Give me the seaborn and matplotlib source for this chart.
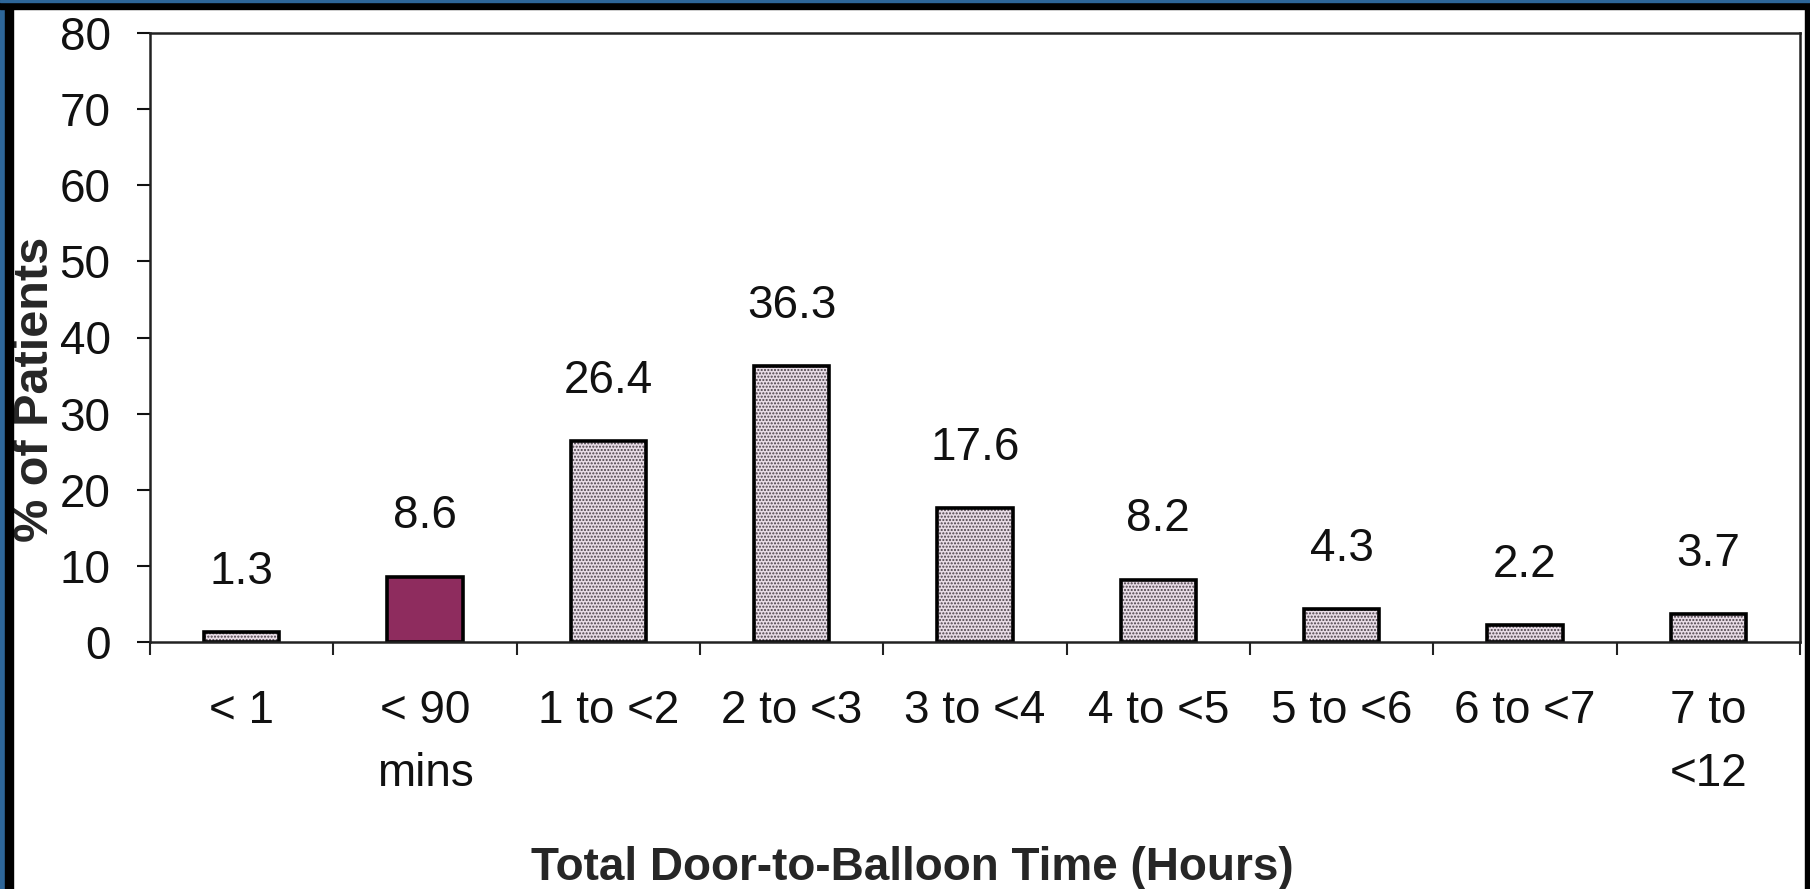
import numpy as np
import pandas as pd
import seaborn as sns
import matplotlib.pyplot as plt
from matplotlib.patches import Rectangle

categories = ["< 1", "< 90\nmins", "1 to <2", "2 to <3", "3 to <4",
              "4 to <5", "5 to <6", "6 to <7", "7 to\n<12"]
percent = [1.3, 8.6, 26.4, 36.3, 17.6, 8.2, 4.3, 2.2, 3.7]
value_labels = ["1.3", "8.6", "26.4", "36.3", "17.6", "8.2", "4.3", "2.2", "3.7"]
bar_colors = ["#e8dce6", "#8e2c5e", "#e8dce6", "#e8dce6", "#e8dce6",
              "#e8dce6", "#e8dce6", "#e8dce6", "#e8dce6"]
y_ticks = [0, 10, 20, 30, 40, 50, 60, 70, 80]

df = pd.DataFrame({"cat": categories, "pct": percent})

sns.set_theme(style="white")
plt.rcParams["font.family"] = ["Liberation Sans", "DejaVu Sans"]

fig = plt.figure(figsize=(18.1, 8.89), dpi=100)
fig.patch.set_facecolor("white")
ax = fig.add_axes([150 / 1810, 1 - 642 / 889, (1800 - 150) / 1810, (642 - 33) / 889])

# stippled fill
sns.barplot(data=df, x="cat", y="pct", hue="cat", palette=bar_colors,
            saturation=1, width=0.41, legend=False, ax=ax,
            edgecolor="#4a4048", linewidth=0)
for i, p in enumerate(ax.patches):
    if i != 1:
        p.set_hatch(".....")
# black outlines
sns.barplot(data=df, x="cat", y="pct", color="black", fill=False,
            width=0.41, ax=ax, linewidth=2.6)

for i, (v, lab) in enumerate(zip(percent, value_labels)):
    ax.text(i, v + 7.9, lab, ha="center", va="center", fontsize=33, color="#111111")

ax.set_ylim(0, 80)
ax.set_xlim(-0.5, len(categories) - 0.5)
ax.set_yticks(y_ticks)
ax.set_yticklabels([str(t) for t in y_ticks], fontsize=33)
ax.set_xticks(range(len(categories)))
ax.set_xticklabels(categories, fontsize=33, linespacing=1.55)
ax.set_xticks(np.arange(-0.5, len(categories), 1.0), minor=True)
ax.tick_params(axis="x", which="major", length=0, pad=34, colors="#111111")
ax.tick_params(axis="x", which="minor", length=9, width=1.5, direction="out",
               bottom=True, color="#222222")
ax.tick_params(axis="y", length=9.4, width=1.5, direction="out", left=True,
               pad=19, colors="#111111")

for s in ax.spines.values():
    s.set_visible(True)
    s.set_color("#222222")
    s.set_linewidth(1.8)

ax.set_xlabel("Total Door-to-Balloon Time (Hours)", fontsize=33, fontweight="bold")
ax.xaxis.set_label_coords(0.462, -0.335)
ax.set_ylabel("% of Patients", fontsize=35, fontweight="bold")
ax.yaxis.set_label_coords(-0.056, 0.414)

# slide frame
fig.patches.append(Rectangle((0, 0), 5 / 1810, 1, transform=fig.transFigure,
                             color="#2d6699", zorder=10))
fig.patches.append(Rectangle((5 / 1810, 0), 8 / 1810, 1, transform=fig.transFigure,
                             color="black", zorder=10))
fig.patches.append(Rectangle((0, 1 - 9 / 889), 1, 9 / 889, transform=fig.transFigure,
                             color="black", zorder=10))
fig.patches.append(Rectangle((0, 1 - 1.5 / 889), 1, 1.5 / 889, transform=fig.transFigure,
                             color="#2d6699", zorder=11))
fig.patches.append(Rectangle((1805 / 1810, 0), 5 / 1810, 1, transform=fig.transFigure,
                             color="black", zorder=10))

fig.savefig("out.png", dpi=100)
